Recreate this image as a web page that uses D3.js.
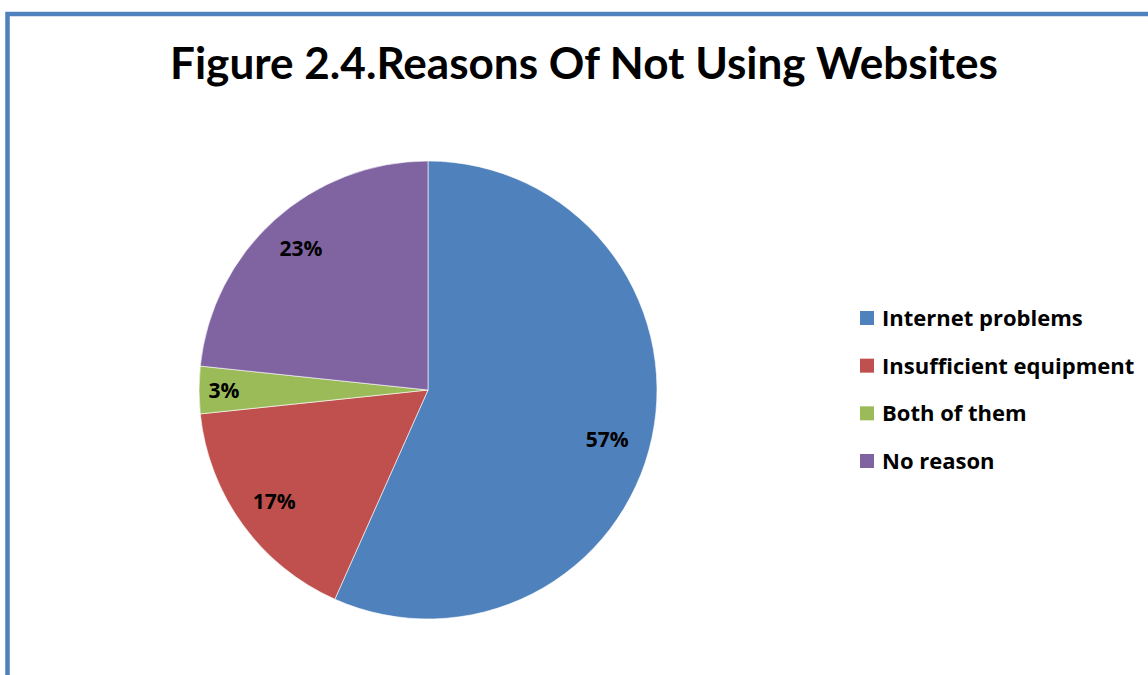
<!DOCTYPE html>
<html>
<head>
<meta charset="utf-8">
<script src="https://cdn.jsdelivr.net/npm/d3@7"></script>
<style>
  html, body { margin: 0; padding: 0; background: #fff; }
  svg { display: block; }
  text { font-family: "Open Sans", sans-serif; font-weight: bold; fill: #000; }
  text.title { font-family: Lato, "Open Sans", sans-serif; }
</style>
</head>
<body>
<svg id="chart" width="1148" height="675"></svg>
<script>
// ---------------------------------------------------------------------------
// Data
// ---------------------------------------------------------------------------
const title      = 'Figure 2.4.Reasons Of Not Using Websites';
const categories = ['Internet problems', 'Insufficient equipment', 'Both of them', 'No reason'];
const counts     = [17, 5, 1, 7];
const colors     = ['#4f81bd', '#c0504d', '#9bbb59', '#8064a2'];

// ---------------------------------------------------------------------------
// Layout
// ---------------------------------------------------------------------------
const W = 1148, H = 675;
const cx = 428, cy = 390, R = 229;

const svg = d3.select('#chart');

// frame (only left/top edges visible in the window)
svg.append('rect')
  .attr('x', 7.5).attr('y', 14)
  .attr('width', W + 20).attr('height', H + 20)
  .attr('fill', 'none').attr('stroke', '#4f81bd').attr('stroke-width', 4.5);

// title
const t = svg.append('text')
  .attr('class', 'title')
  .attr('x', 584).attr('y', 79)
  .attr('text-anchor', 'middle')
  .attr('font-size', 43)
  .text(title);
const tw = t.node().getComputedTextLength();
if (Math.abs(tw - 828) > 6) t.attr('textLength', 828).attr('lengthAdjust', 'spacingAndGlyphs');

// ---------------------------------------------------------------------------
// Pie
// ---------------------------------------------------------------------------
const total = d3.sum(counts);
const pie = d3.pie().sort(null).value(d => d);
const arcs = pie(counts);
const arc = d3.arc().innerRadius(0).outerRadius(R);

const g = svg.append('g').attr('transform', `translate(${cx},${cy})`);

g.selectAll('path.slice')
  .data(arcs)
  .join('path')
  .attr('class', 'slice')
  .attr('d', arc)
  .attr('fill', (d, i) => colors[i])
  .attr('stroke', '#fff')
  .attr('stroke-width', 0.6);

g.selectAll('text.pct')
  .data(arcs)
  .join('text')
  .attr('class', 'pct')
  .attr('transform', d => {
    const share = d.value / total;
    const r = share < 0.05 ? 204 : share > 0.5 ? 186 : 190;
    const a = (d.startAngle + d.endAngle) / 2 + (share > 0.5 ? 0.06 : 0);
    return `translate(${r * Math.sin(a)},${-r * Math.cos(a)})`;
  })
  .attr('text-anchor', 'middle')
  .attr('dy', '0.36em')
  .attr('font-size', 21)
  .text(d => Math.round(d.value / total * 100) + '%');

// ---------------------------------------------------------------------------
// Legend
// ---------------------------------------------------------------------------
const ly = d3.scalePoint().domain(categories).range([318, 461]);

const lg = svg.append('g').selectAll('g')
  .data(categories)
  .join('g')
  .attr('transform', d => `translate(860,${ly(d)})`);

lg.append('rect')
  .attr('x', 0).attr('y', -7)
  .attr('width', 14).attr('height', 14)
  .attr('fill', (d, i) => colors[i]);

lg.append('text')
  .attr('x', 22).attr('dy', '0.36em')
  .attr('font-size', 22)
  .text(d => d);
</script>
</body>
</html>
